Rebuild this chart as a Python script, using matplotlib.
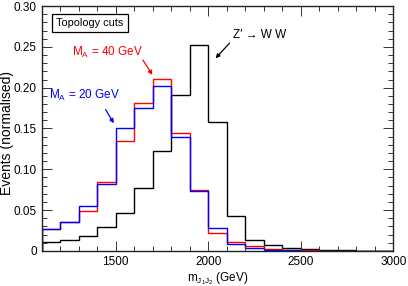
import numpy as np
import matplotlib
matplotlib.use("Agg")
import matplotlib.pyplot as plt
from matplotlib.ticker import MultipleLocator, FixedLocator

plt.rcParams['font.family'] = ['Liberation Sans', 'DejaVu Sans']
plt.rcParams['mathtext.fontset'] = 'custom'
plt.rcParams['mathtext.rm'] = 'Liberation Sans'
plt.rcParams['mathtext.it'] = 'Liberation Sans:italic'
plt.rcParams['mathtext.bf'] = 'Liberation Sans:bold'

# Data
bin_edges = list(range(1100, 3001, 100))
zprime_ww = [0.0106, 0.0134, 0.0183, 0.029, 0.047, 0.077, 0.122, 0.191, 0.252,
             0.158, 0.043, 0.014, 0.0068, 0.0033, 0.002, 0.001, 0.0007, 0.0004, 0.0003]
ma40 = [0.0266, 0.0355, 0.049, 0.084, 0.135, 0.181, 0.211, 0.144, 0.075,
        0.0215, 0.0115, 0.006, 0.0025, 0.0012, 0.0008, 0.0005, 0.0003, 0.0002, 0.0001]
ma20 = [0.0266, 0.0355, 0.055, 0.0825, 0.150, 0.175, 0.2016, 0.140, 0.073,
        0.0285, 0.0083, 0.0033, 0.0015, 0.001, 0.0006, 0.0004, 0.0004, 0.0002, 0.0001]
y_ticks = [0, 0.05, 0.10, 0.15, 0.20, 0.25, 0.30]
y_ticklabels = ["0", "0.05", "0.10", "0.15", "0.20", "0.25", "0.30"]
x_ticks = [1500, 2000, 2500, 3000]

fig = plt.figure(figsize=(4.08, 2.86), dpi=100)
ax = fig.add_axes([0.102, 0.1224, 0.862, 0.8566])

ax.stairs(zprime_ww, bin_edges, color='black', lw=1.0)
ax.stairs(ma40, bin_edges, color='#ff0000', lw=1.0)
ax.stairs(ma20, bin_edges, color='#0000ff', lw=1.0)

ax.set_xlim(1100, 3000)
ax.set_ylim(0, 0.30)
ax.yaxis.set_major_locator(FixedLocator(y_ticks))
ax.set_yticklabels(y_ticklabels)
ax.yaxis.set_minor_locator(MultipleLocator(0.01))
ax.xaxis.set_major_locator(FixedLocator(x_ticks))
ax.xaxis.set_minor_locator(MultipleLocator(100))

ax.tick_params(which='both', direction='in', top=True, right=True, labelsize=8.5,
               width=0.7, color='#333333')
ax.tick_params(which='major', length=7)
ax.tick_params(which='minor', length=3.5)
for s in ax.spines.values():
    s.set_linewidth(1.0)
    s.set_color('#222222')

ax.set_ylabel("Events (normalised)", fontsize=10.0)
ax.yaxis.set_label_coords(-0.078, 0.48)
ax.set_xlabel(r"m$_{\mathrm{J}_1\mathrm{J}_2}$ (GeV)", fontsize=8.5, labelpad=2)

ax.text(1360, 0.279, "Topology cuts", fontsize=7.8, ha='center', va='center',
        bbox=dict(boxstyle='square,pad=0.4', fc='white', ec='black', lw=0.9))

ax.text(1263, 0.243, r"M$_{\mathrm{A}}$ = 40 GeV", color='#ff0000', fontsize=8.5,
        ha='left', va='center')
ax.annotate("", xy=(1698, 0.2157), xytext=(1647, 0.234),
            arrowprops=dict(arrowstyle='-|>', color='#ff0000', lw=0.9,
                            mutation_scale=6, shrinkA=0, shrinkB=0))

ax.text(1141, 0.191, r"M$_{\mathrm{A}}$ = 20 GeV", color='#0000ff', fontsize=8.5,
        ha='left', va='center')
ax.annotate("", xy=(1490, 0.1565), xytext=(1446, 0.173),
            arrowprops=dict(arrowstyle='-|>', color='#0000ff', lw=0.9,
                            mutation_scale=6, shrinkA=0, shrinkB=0))

ax.text(2132, 0.264, "Z\u2032 \u2192 W W", color='black', fontsize=8.5,
        ha='left', va='center')
ax.annotate("", xy=(2040, 0.236), xytext=(2115, 0.2545),
            arrowprops=dict(arrowstyle='-|>', color='black', lw=0.9,
                            mutation_scale=6, shrinkA=0, shrinkB=0))

fig.savefig("out.png", dpi=100)
